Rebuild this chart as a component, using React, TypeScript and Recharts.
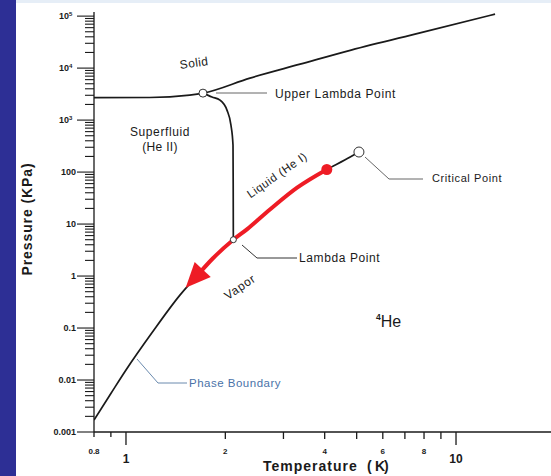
import React from 'react';
import { ComposedChart, Line, Scatter, XAxis, YAxis } from 'recharts';

// ---- data (temperature K, pressure kPa) ----
const meltingT = [0.8, 1.18, 1.56, 1.711, 2.375, 3.37, 4.81, 7.78, 13.13];
const meltingP = [2710, 2720, 3030, 3300, 6430, 11900, 22200, 47700, 109000];

const lambdaT = [1.711, 1.822, 1.927, 2.023, 2.08, 2.11, 2.113, 2.115];
const lambdaP = [3300, 2770, 2425, 1556, 801, 330, 45, 5.0];

const vaporT = [0.8, 0.9, 1.0, 1.2, 1.457, 1.66, 1.835, 2.115, 2.33, 2.73, 3.3, 4.06, 4.6, 5.08];
const vaporP = [0.0017, 0.0055, 0.0156, 0.082, 0.43, 1.1, 2.2, 5.0, 8.0, 19, 50, 112, 170, 243];

const arrowT = [4.06, 3.3, 2.73, 2.33, 2.115, 1.835, 1.66];
const arrowP = [112, 50, 19, 8.0, 5.0, 2.2, 1.1];

const upperLambdaPt = [{ t: 1.711, p: 3300 }];
const lambdaPt = [{ t: 2.115, p: 5.0 }];
const criticalPt = [{ t: 5.08, p: 243 }];
const startPt = [{ t: 4.06, p: 112 }];

const xTicks = [0.8, 0.9, 1, 2, 3, 4, 5, 6, 7, 8, 9, 10];
const xTickLabels: Record<string, string> = { '0.8': '0.8', '1': '1', '2': '2', '4': '4', '6': '6', '8': '8', '10': '10' };
const xMajor = [1, 10];

const yMajorTicks = [0.001, 0.01, 0.1, 1, 10, 100, 1000, 10000, 100000];
const yMajorLabels = ['0.001', '0.01', '0.1', '1', '10', '100', '10^3', '10^4', '10^5'];
const yMinorMult = [2, 3, 4, 5, 6, 7, 8, 9];

const zip = (ts: number[], ps: number[]) => ts.map((t, i) => ({ t, p: ps[i] }));
const meltingData = zip(meltingT, meltingP);
const lambdaData = zip(lambdaT, lambdaP);
const vaporData = zip(vaporT, vaporP);
const arrowData = zip(arrowT, arrowP);

const yTicks: number[] = [];
yMajorTicks.forEach((m, i) => {
  yTicks.push(m);
  if (i < yMajorTicks.length - 1) yMinorMult.forEach((k) => yTicks.push(+(m * k).toPrecision(6)));
});

const FONT = '"Liberation Sans", Arial, sans-serif';
const INK = '#1a1a1a';

const XTick = (props: any) => {
  const { x, y, payload } = props;
  const v = payload.value;
  const isMajor = xMajor.includes(v);
  const len = isMajor ? 13 : v === 0.8 || v === 0.9 ? 5 : 7;
  const label = xTickLabels[String(v)];
  return (
    <g>
      <line x1={x} x2={x} y1={y} y2={y + len} stroke={INK} strokeWidth={1.3} />
      {label && (
        <text
          x={x}
          y={isMajor ? y + 31 : y + 22}
          textAnchor="middle"
          fontFamily={FONT}
          fontWeight="bold"
          fontSize={isMajor ? 12 : 8}
          fill={INK}
        >
          {label}
        </text>
      )}
    </g>
  );
};

const YTick = (props: any) => {
  const { x, y, payload } = props;
  const v = payload.value;
  const idx = yMajorTicks.findIndex((m) => Math.abs(m - v) / m < 1e-6);
  const isMajor = idx >= 0;
  const label = isMajor ? yMajorLabels[idx] : null;
  let labelEl = null;
  if (label) {
    if (label.includes('^')) {
      const [b, e] = label.split('^');
      labelEl = (
        <text x={x - 35} y={y + 3} textAnchor="start" fontFamily={FONT} fontWeight="bold" fontSize={9} fill={INK}>
          {b}
          <tspan fontSize={6} dy={-3.5}>{e}</tspan>
        </text>
      );
    } else {
      labelEl = (
        <text x={x - 18} y={y + 3} textAnchor="end" fontFamily={FONT} fontWeight="bold" fontSize={9} fill={INK}>
          {label}
        </text>
      );
    }
  }
  return (
    <g>
      <line x1={x} x2={x - (isMajor ? 17 : 9)} y1={y} y2={y} stroke={INK} strokeWidth={1.1} />
      {labelEl}
    </g>
  );
};

const ARROW_ANGLE = 133; // degrees, direction of the arrow head
const ArrowDot = (props: any) => {
  const { cx, cy, index } = props;
  if (index !== arrowData.length - 1 || cx == null) return <g key={`ad-${index}`} />;
  const a = (ARROW_ANGLE * Math.PI) / 180;
  const dx = Math.cos(a);
  const dy = Math.sin(a);
  const len = 25;
  const hw = 11;
  const tip = [cx + dx * (len - 6), cy + dy * (len - 6)];
  const b = [cx - dx * 6, cy - dy * 6];
  const c1 = [b[0] - dy * hw, b[1] + dx * hw];
  const c2 = [b[0] + dy * hw, b[1] - dx * hw];
  return (
    <polygon
      key={`ad-${index}`}
      points={`${tip[0]},${tip[1]} ${c1[0]},${c1[1]} ${c2[0]},${c2[1]}`}
      fill="#ee1c25"
      stroke="none"
    />
  );
};

const hollow = (r: number) => (props: any) => {
  const { cx, cy } = props;
  return <circle cx={cx} cy={cy} r={r} fill="#fff" stroke="#333" strokeWidth={1} />;
};
const filledRed = (props: any) => {
  const { cx, cy } = props;
  return <circle cx={cx} cy={cy} r={5.5} fill="#ee1c25" stroke="none" />;
};

export default function App() {
  return (
    <div style={{ position: 'absolute', left: 0, top: 0, width: 551, height: 476, background: '#fff', overflow: 'hidden' }}>
      <div style={{ position: 'absolute', left: 0, top: 0, width: 551, height: 3, background: '#e6eef7' }} />
      <div style={{ position: 'absolute', left: 0, top: 0, width: 16, height: 476, background: '#2d2f95' }} />
      <div style={{ position: 'absolute', left: 0, top: 0 }}>
        <ComposedChart width={551} height={476} margin={{ top: 12, right: 0, bottom: 0, left: 0 }}>
          <XAxis
            dataKey="t"
            type="number"
            scale="log"
            domain={[0.8, 19.4]}
            ticks={xTicks}
            interval={0}
            tick={<XTick />}
            tickLine={false}
            tickSize={0}
            tickMargin={0}
            height={44}
            axisLine={{ stroke: INK, strokeWidth: 1.3 }}
            allowDataOverflow
          />
          <YAxis
            dataKey="p"
            type="number"
            scale="log"
            domain={[0.001, 120000]}
            ticks={yTicks}
            interval={0}
            tick={<YTick />}
            tickLine={false}
            tickSize={0}
            tickMargin={0}
            width={94}
            axisLine={{ stroke: INK, strokeWidth: 1.3 }}
            allowDataOverflow
          />
          <Line data={meltingData} dataKey="p" type="monotone" stroke={INK} strokeWidth={1.7} dot={false} isAnimationActive={false} />
          <Line data={lambdaData} dataKey="p" type="monotone" stroke={INK} strokeWidth={1.7} dot={false} isAnimationActive={false} />
          <Line data={vaporData} dataKey="p" type="monotone" stroke={INK} strokeWidth={1.7} dot={false} isAnimationActive={false} />
          <Line data={arrowData} dataKey="p" type="monotone" stroke="#ee1c25" strokeWidth={4} dot={<ArrowDot />} activeDot={false} isAnimationActive={false} />
          <Scatter data={upperLambdaPt} dataKey="p" shape={hollow(4)} isAnimationActive={false} />
          <Scatter data={lambdaPt} dataKey="p" shape={hollow(3)} isAnimationActive={false} />
          <Scatter data={criticalPt} dataKey="p" shape={hollow(5)} isAnimationActive={false} />
          <Scatter data={startPt} dataKey="p" shape={filledRed} isAnimationActive={false} />
        </ComposedChart>
      </div>
      <svg width={551} height={476} style={{ position: 'absolute', left: 0, top: 0, pointerEvents: 'none' }} fontFamily={FONT}>
        <text x={194} y={67} textAnchor="middle" fontSize={12} letterSpacing={0.4} fill={INK} transform="rotate(-8 194 63)">Solid</text>
        <text x={160} y={136} textAnchor="middle" fontSize={12} letterSpacing={0.6} fill={INK}>Superfluid</text>
        <text x={160} y={151} textAnchor="middle" fontSize={12} letterSpacing={0.3} fill={INK}>(He II)</text>

        <line x1={216} y1={93} x2={267} y2={93} stroke="#555" strokeWidth={0.9} />
        <text x={275} y={97.5} fontSize={12} letterSpacing={0.6} fill={INK}>Upper Lambda Point</text>

        <text x={277} y={179} textAnchor="middle" fontSize={11.5} letterSpacing={0.6} fill={INK} transform="rotate(-35 277 175)">Liquid (He I)</text>

        <polyline points="365,157 389,179 423,179" fill="none" stroke="#555" strokeWidth={0.9} />
        <text x={432} y={182} fontSize={11} letterSpacing={0.6} fill={INK}>Critical Point</text>

        <polyline points="242,245 257,258 297,258" fill="none" stroke="#333" strokeWidth={1} />
        <text x={299} y={262} fontSize={12} letterSpacing={0.6} fill={INK}>Lambda Point</text>

        <text x={240} y={291} textAnchor="middle" fontSize={12} letterSpacing={0.8} fill={INK} transform="rotate(-34 240 287)">Vapor</text>

        <text x={376} y={327} fontSize={16} fill={INK}>
          <tspan fontSize={8.5} fontWeight="bold" dy={-7}>4</tspan>
          <tspan dy={7}>He</tspan>
        </text>

        <polyline points="137,359 158,383 187,383" fill="none" stroke="#6a8aae" strokeWidth={1} />
        <text x={189} y={387} fontSize={11.5} letterSpacing={0.5} fill="#4a72a8">Phase Boundary</text>

        <text
          transform="translate(27,219) rotate(-90)"
          textAnchor="middle"
          dominantBaseline="central"
          fontSize={14}
          fontWeight="bold"
          letterSpacing={0.9}
          fill={INK}
        >
          Pressure (KPa)
        </text>

        <text x={263} y={471} fontSize={14} fontWeight="bold" letterSpacing={1} fill={INK}>Temperature</text>
        <text x={367} y={471} fontSize={14} fontWeight="bold" fill={INK}>(</text>
        <text x={375} y={471} fontSize={14} fontWeight="bold" fill={INK}>K</text>
        <text x={384} y={471} fontSize={14} fontWeight="bold" fill={INK}>)</text>
      </svg>
    </div>
  );
}
